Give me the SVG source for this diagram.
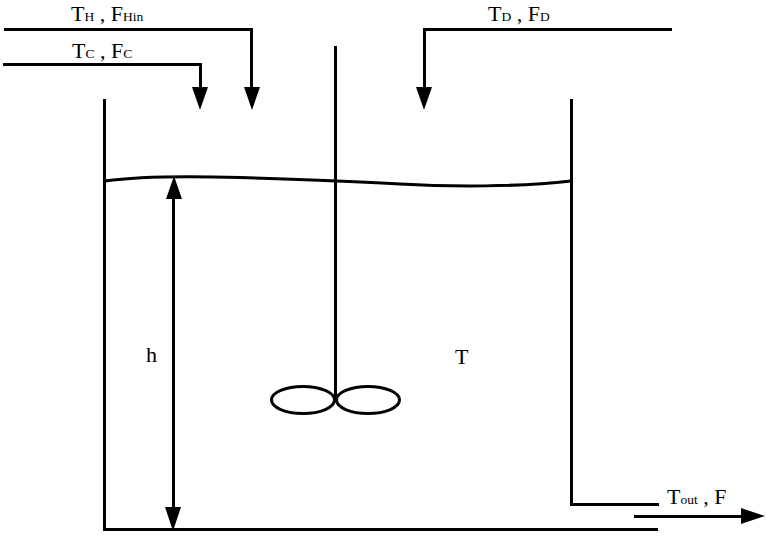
<svg xmlns="http://www.w3.org/2000/svg" width="766" height="543" viewBox="0 0 766 543">
<style>
.l{fill:none;stroke:#000;stroke-width:3}
.a{fill:#000;stroke:none}
.t{font-family:"Liberation Serif","Times New Roman",serif;font-size:22px;fill:#000}
.s{font-size:13.500px}
</style>
<rect width="766" height="543" fill="#fff"/>
<g id="connectors">
<path class="l" d="M4 29.500H251.500V90"/>
<path class="a" d="M244 87H260L252 110Z"/>
<path class="l" d="M3 64.500H200.500V90"/>
<path class="a" d="M192 87H208L200 110Z"/>
<path class="l" d="M672 29.500H424.500V90"/>
<path class="a" d="M416 87H432L424 110Z"/>
<path class="l" d="M634 516.500H745"/>
<path class="a" d="M741 508V524L765 516Z"/>
<path class="l" d="M173.500 195V510"/>
<path class="a" d="M166 199H182L174 176Z"/>
<path class="a" d="M165 507H181L173 531Z"/>
</g>
<g id="tank">
<path class="l" d="M104.500 99V529.500H658"/>
<path class="l" d="M571.500 99V504.500H659"/>
<path class="l" d="M105 181C140 176 190 176 240 177.500C290 179 350 181 400 184C450 187 520 187 571 181"/>
</g>
<g id="agitator">
<path class="l" d="M335.500 46V402"/>
<ellipse class="l" cx="303" cy="400" rx="31.500" ry="13.500"/>
<ellipse class="l" cx="368" cy="400" rx="31.500" ry="13.500"/>
</g>
<g id="labels">
<text class="t" x="71" y="21">T<tspan class="s">H</tspan> , F<tspan class="s">Hin</tspan></text>
<text class="t" x="72" y="58">T<tspan class="s">C</tspan> , F<tspan class="s">C</tspan></text>
<text class="t" x="488" y="21">T<tspan class="s">D</tspan> , F<tspan class="s">D</tspan></text>
<text class="t" x="667" y="504">T<tspan class="s">out</tspan> , F</text>
<text class="t" x="146" y="362">h</text>
<text class="t" x="455" y="364">T</text>
</g>
</svg>
